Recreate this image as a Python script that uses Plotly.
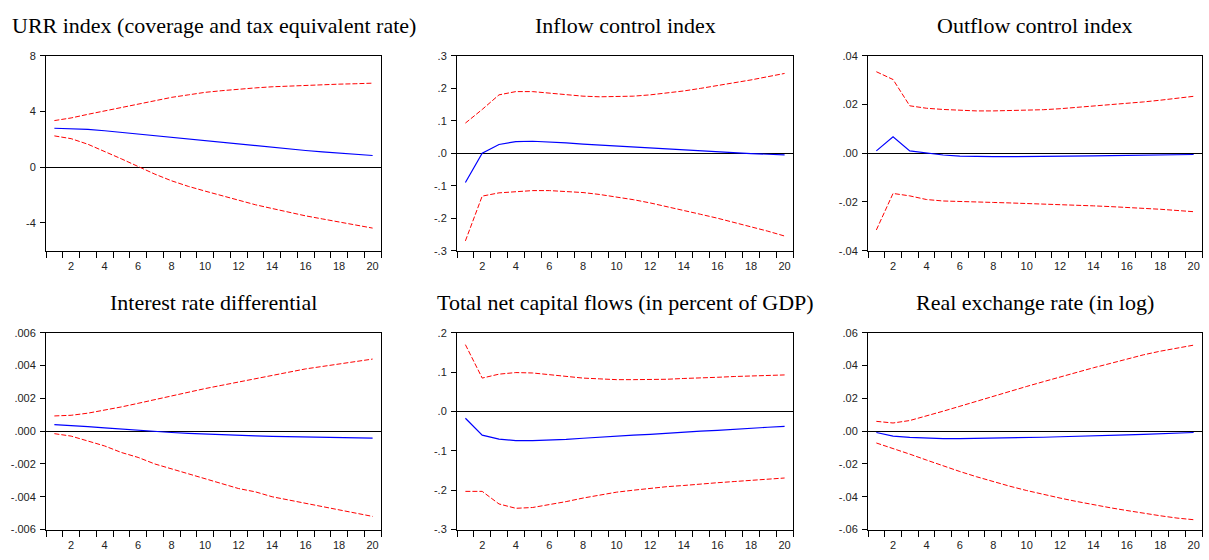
import plotly.graph_objects as go

periods = list(range(1, 21))

titles = [
    "URR index (coverage and tax equivalent rate)",
    "Inflow control index",
    "Outflow control index",
    "Interest rate differential",
    "Total net capital flows (in percent of GDP)",
    "Real exchange rate (in log)",
]

# URR index
urr_resp = [2.8, 2.78, 2.72, 2.62, 2.5, 2.38, 2.26, 2.13, 2.0, 1.88, 1.76, 1.64, 1.52, 1.41, 1.3, 1.2, 1.1, 1.01, 0.92, 0.84]
urr_up = [3.35, 3.54, 3.8, 4.05, 4.3, 4.57, 4.8, 5.02, 5.2, 5.38, 5.5, 5.62, 5.7, 5.78, 5.84, 5.89, 5.93, 5.97, 6.0, 6.04]
urr_lo = [2.25, 2.05, 1.65, 1.15, 0.6, 0.05, -0.5, -0.98, -1.38, -1.72, -2.05, -2.4, -2.7, -2.97, -3.25, -3.5, -3.72, -3.93, -4.15, -4.38]

# Inflow control index
inf_resp = [-0.09, 0.0, 0.027, 0.036, 0.037, 0.035, 0.032, 0.028, 0.025, 0.022, 0.018, 0.015, 0.012, 0.009, 0.006, 0.003, 0.001, -0.001, -0.003, -0.005]
inf_up = [0.093, 0.135, 0.18, 0.19, 0.19, 0.185, 0.18, 0.176, 0.174, 0.174, 0.176, 0.18, 0.185, 0.192, 0.2, 0.208, 0.217, 0.226, 0.236, 0.246]
inf_lo = [-0.27, -0.132, -0.122, -0.118, -0.115, -0.115, -0.117, -0.121, -0.127, -0.134, -0.143, -0.153, -0.164, -0.176, -0.188, -0.2, -0.213, -0.226, -0.24, -0.255]

# Outflow control index
out_resp = [0.001, 0.0068, 0.001, 0.0, -0.0007, -0.0012, -0.0014, -0.0014, -0.0014, -0.0014, -0.0013, -0.0013, -0.0012, -0.0011, -0.001, -0.0009, -0.0008, -0.0007, -0.0006, -0.0005]
out_up = [0.0335, 0.0303, 0.0195, 0.0185, 0.018, 0.0176, 0.0174, 0.0174, 0.0175, 0.0176, 0.0179, 0.0183, 0.0188, 0.0193, 0.0199, 0.0205, 0.0211, 0.0218, 0.0225, 0.0234]
out_lo = [-0.0315, -0.0165, -0.0175, -0.019, -0.0196, -0.0199, -0.02, -0.0202, -0.0204, -0.0206, -0.0208, -0.021, -0.0213, -0.0216, -0.0219, -0.0222, -0.0226, -0.023, -0.0235, -0.024]

# Interest rate differential
ird_resp = [0.0004, 0.00035, 0.00028, 0.0002, 0.00012, 0.00005, -0.00002, -0.00008, -0.00013, -0.00018, -0.00022, -0.00026, -0.00029, -0.00032, -0.00034, -0.00036, -0.00037, -0.00038, -0.0004, -0.00042]
ird_up = [0.00093, 0.00097, 0.0011, 0.00127, 0.00148, 0.0017, 0.00193, 0.00215, 0.00238, 0.0026, 0.0028, 0.003, 0.0032, 0.0034, 0.0036, 0.0038, 0.00395, 0.0041, 0.00425, 0.0044]
ird_lo = [-0.00015, -0.0003, -0.0006, -0.0009, -0.0013, -0.0016, -0.002, -0.0023, -0.0026, -0.0029, -0.0032, -0.0035, -0.0037, -0.004, -0.0042, -0.0044, -0.0046, -0.0048, -0.005, -0.0052]

# Total net capital flows
cap_resp = [-0.017, -0.06, -0.07, -0.074, -0.074, -0.073, -0.071, -0.068, -0.065, -0.063, -0.06, -0.058, -0.055, -0.053, -0.05, -0.048, -0.045, -0.043, -0.04, -0.038]
cap_up = [0.17, 0.085, 0.095, 0.099, 0.098, 0.094, 0.089, 0.085, 0.083, 0.081, 0.081, 0.081, 0.082, 0.084, 0.085, 0.087, 0.089, 0.09, 0.092, 0.093]
cap_lo = [-0.203, -0.203, -0.235, -0.246, -0.244, -0.237, -0.229, -0.22, -0.212, -0.205, -0.2, -0.195, -0.191, -0.188, -0.184, -0.181, -0.178, -0.175, -0.172, -0.169]

# Real exchange rate
rer_resp = [-0.0008, -0.003, -0.0038, -0.0043, -0.0045, -0.0045, -0.0044, -0.0043, -0.0041, -0.0039, -0.0037, -0.0034, -0.0032, -0.0029, -0.0026, -0.0022, -0.0019, -0.0015, -0.0011, -0.0008]
rer_up = [0.006, 0.005, 0.0065, 0.0092, 0.0122, 0.0152, 0.0183, 0.0213, 0.0243, 0.0273, 0.0302, 0.0331, 0.0359, 0.0387, 0.0413, 0.044, 0.0466, 0.0488, 0.0508, 0.0525]
rer_lo = [-0.0072, -0.0105, -0.014, -0.0176, -0.0212, -0.0246, -0.0278, -0.0308, -0.0336, -0.0362, -0.0386, -0.0408, -0.0429, -0.0449, -0.0467, -0.0484, -0.0501, -0.0516, -0.053, -0.054]

x_tickvals = [2, 4, 6, 8, 10, 12, 14, 16, 18, 20]
x_ticktext = ["2", "4", "6", "8", "10", "12", "14", "16", "18", "20"]

y_ticks = [
    ([-4, 0, 4, 8], ["-4", "0", "4", "8"], [-6, 8]),
    ([-0.3, -0.2, -0.1, 0.0, 0.1, 0.2, 0.3], ["-.3", "-.2", "-.1", ".0", ".1", ".2", ".3"], [-0.3, 0.3]),
    ([-0.04, -0.02, 0.0, 0.02, 0.04], ["-.04", "-.02", ".00", ".02", ".04"], [-0.04, 0.04]),
    ([-0.006, -0.004, -0.002, 0.0, 0.002, 0.004, 0.006], ["-.006", "-.004", "-.002", ".000", ".002", ".004", ".006"], [-0.006, 0.006]),
    ([-0.3, -0.2, -0.1, 0.0, 0.1, 0.2], ["-.3", "-.2", "-.1", ".0", ".1", ".2"], [-0.3, 0.2]),
    ([-0.06, -0.04, -0.02, 0.0, 0.02, 0.04, 0.06], ["-.06", "-.04", "-.02", ".00", ".02", ".04", ".06"], [-0.06, 0.06]),
]

series = [
    (urr_resp, urr_up, urr_lo),
    (inf_resp, inf_up, inf_lo),
    (out_resp, out_up, out_lo),
    (ird_resp, ird_up, ird_lo),
    (cap_resp, cap_up, cap_lo),
    (rer_resp, rer_up, rer_lo),
]

W, H = 1209, 560
x_domains_px = [(46, 381), (457, 793), (868, 1202)]
y_domains_px = [(51, 250), (334, 535)]
title_y_px = [20, 303]

fig = go.Figure()
layout = dict(
    width=W, height=H,
    margin=dict(l=0, r=0, t=0, b=0),
    paper_bgcolor="white", plot_bgcolor="white",
    showlegend=False,
    annotations=[],
)

for i, (resp, up, lo) in enumerate(series):
    r, c = divmod(i, 3)
    xa = "x" if i == 0 else f"x{i+1}"
    ya = "y" if i == 0 else f"y{i+1}"
    fig.add_trace(go.Scatter(x=periods, y=up, mode="lines", xaxis=xa, yaxis=ya,
                             line=dict(color="#ff0000", width=1, dash="5px,2px")))
    fig.add_trace(go.Scatter(x=periods, y=lo, mode="lines", xaxis=xa, yaxis=ya,
                             line=dict(color="#ff0000", width=1, dash="5px,2px")))
    fig.add_trace(go.Scatter(x=periods, y=resp, mode="lines", xaxis=xa, yaxis=ya,
                             line=dict(color="#0000ff", width=1.2)))
    x0, x1 = x_domains_px[c]
    yt, yb = y_domains_px[r]
    tv, tt, rng = y_ticks[i]
    xkey = "xaxis" if i == 0 else f"xaxis{i+1}"
    ykey = "yaxis" if i == 0 else f"yaxis{i+1}"
    layout[xkey] = dict(
        domain=[x0 / W, x1 / W], anchor=ya, range=[0.5, 20.5],
        tickmode="array", tickvals=x_tickvals, ticktext=x_ticktext,
        ticks="outside", ticklen=0, ticklabelstandoff=5, showgrid=False, zeroline=False,
        showline=True, mirror=True, linecolor="black", linewidth=1,
        tickfont=dict(family="Liberation Sans", size=11, color="#222"),
        minor=dict(ticks="outside", ticklen=6, tickcolor="black", tickmode="linear", tick0=0.5, dtick=1, showgrid=False),
    )
    layout[ykey] = dict(
        domain=[1 - yb / H, 1 - yt / H], anchor=xa, range=rng,
        tickmode="array", tickvals=tv, ticktext=tt,
        ticks="outside", ticklen=5, tickcolor="black", ticklabelstandoff=2, showgrid=False,
        zeroline=True, zerolinecolor="black", zerolinewidth=1,
        showline=True, mirror=True, linecolor="black", linewidth=1,
        tickfont=dict(family="Liberation Sans", size=11, color="#222"),
    )
    layout["annotations"].append(dict(
        text=titles[i], x=(x0 + x1) / 2 / W, y=1 - title_y_px[r] / H,
        xref="paper", yref="paper", xanchor="center", yanchor="middle",
        showarrow=False, font=dict(family="Liberation Serif", size=22, color="black"),
    ))

fig.update_layout(**layout)
fig.write_html("out.html")
